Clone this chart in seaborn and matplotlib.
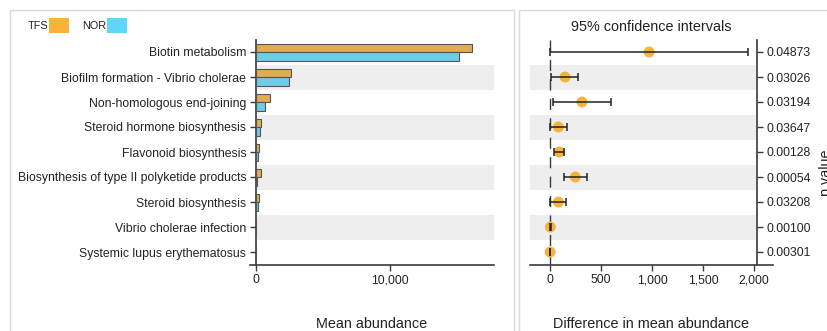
import numpy as np
import pandas as pd
import matplotlib
matplotlib.use("Agg")
import matplotlib.pyplot as plt
from matplotlib.patches import Rectangle
import seaborn as sns

# ---- data -------------------------------------------------------------
pathways = [
    "Biotin metabolism",
    "Biofilm formation - Vibrio cholerae",
    "Non-homologous end-joining",
    "Steroid hormone biosynthesis",
    "Flavonoid biosynthesis",
    "Biosynthesis of type II polyketide products",
    "Steroid biosynthesis",
    "Vibrio cholerae infection",
    "Systemic lupus erythematosus",
]
tfs_mean = [16140, 2590, 1020, 370, 260, 350, 240, 10, 5]
nor_mean = [15170, 2440, 700, 285, 170, 100, 160, 5, 3]
diff_mean = [970, 147, 313, 82, 91, 248, 82, 3, 1]
ci_low = [2, 10, 26, 3, 42, 134, 3, 1, 0]
ci_high = [1938, 277, 600, 163, 140, 362, 160, 6, 3]
p_values = ["0.04873", "0.03026", "0.03194", "0.03647", "0.00128",
            "0.00054", "0.03208", "0.00100", "0.00301"]
groups = ["TFS", "NOR"]
colors = {"TFS": "#F9B23A", "NOR": "#5DD6F7"}

# ---- style ------------------------------------------------------------
sns.set_theme(style="white")
plt.rcParams["font.family"] = ["Liberation Sans", "DejaVu Sans"]
TEXT = "#222222"
SPINE = "#3a3a3a"
BAND = "#eeeeee"
TICK_FS = 8.8
LABEL_FS = 10.4

W, H = 828, 331
fig = plt.figure(figsize=(W / 100, H / 100), dpi=100)


def box(x0, y0, x1, y1):
    """pixel box (top-left origin) -> figure fraction rect"""
    return [x0 / W, 1 - y1 / H, (x1 - x0) / W, (y1 - y0) / H]


# card frames behind the two panels
for x0, y0, x1, y1 in [(10, 10, 514, 340), (519, 10, 840, 340)]:
    fig.patches.append(Rectangle((x0 / W, 1 - y1 / H), (x1 - x0) / W, (y1 - y0) / H,
                                 transform=fig.transFigure, facecolor="white",
                                 edgecolor="#dadada", linewidth=1.0, zorder=-10))

n = len(pathways)
rows = np.arange(n)

# ---- left panel: mean abundance bars ----------------------------------
ax1 = fig.add_axes(box(250, 39.5, 494, 264.5))
ax1.patch.set_alpha(0)
long_df = pd.DataFrame({
    "pathway": pathways * 2,
    "abundance": tfs_mean + nor_mean,
    "group": ["TFS"] * n + ["NOR"] * n,
})
sns.barplot(data=long_df, y="pathway", x="abundance", hue="group",
            hue_order=groups, order=pathways, palette=colors, orient="h",
            width=0.68, edgecolor="#555555", linewidth=0.8, legend=False,
            ax=ax1, zorder=3)
xl1 = (-448, 17760)
ax1.set_xlim(*xl1)
ax1.set_ylim(n - 0.5, -0.5)
for i in rows[1::2]:
    ax1.axhspan(i - 0.5, i + 0.5, xmin=(257 - 250) / 244, xmax=1,
                color=BAND, lw=0, zorder=0)
ax1.set_xticks([0, 10000])
ax1.set_xticklabels(["0", "10,000"])
ax1.set_xlabel("Mean abundance", fontsize=LABEL_FS, color=TEXT, labelpad=22)
ax1.set_ylabel("")
for s in ["top", "right"]:
    ax1.spines[s].set_visible(False)
ax1.spines["left"].set_position(("data", 0))
for s in ["left", "bottom"]:
    ax1.spines[s].set_color(SPINE)
    ax1.spines[s].set_linewidth(1.2)
ax1.tick_params(axis="both", length=4, width=1, color=SPINE,
                labelsize=TICK_FS, labelcolor=TEXT, pad=3, bottom=True, left=True)

# ---- right panel: difference with 95% CI -------------------------------
ax2 = fig.add_axes(box(530, 39.5, 773, 264.5))
ax2.patch.set_alpha(0)
xl2 = (-196, 2183)
ax2.set_xlim(*xl2)
ax2.set_ylim(n - 0.5, -0.5)
for i in rows[1::2]:
    ax2.axhspan(i - 0.5, i + 0.5, xmin=0, xmax=(757 - 530) / 243,
                color=BAND, lw=0, zorder=0)
ax2.axvline(0, color=SPINE, lw=1, dashes=(8, 6), zorder=1)
diff_df = pd.DataFrame({"row": rows, "diff": diff_mean,
                        "lo": ci_low, "hi": ci_high})
sns.scatterplot(data=diff_df, x="diff", y="row", color=colors["TFS"], s=62,
                edgecolor="none", linewidth=0, ax=ax2, zorder=3, legend=False)
ax2.errorbar(diff_df["diff"], diff_df["row"],
             xerr=[diff_df["diff"] - diff_df["lo"], diff_df["hi"] - diff_df["diff"]],
             fmt="none", ecolor="#222222", elinewidth=1.1, capsize=2.8,
             capthick=1.1, zorder=4)
ax2.set_xlim(*xl2)
ax2.set_ylim(n - 0.5, -0.5)
ax2.set_xticks([0, 500, 1000, 1500, 2000])
ax2.set_xticklabels(["0", "500", "1,000", "1,500", "2,000"])
ax2.set_xlabel("Difference in mean abundance", fontsize=LABEL_FS, color=TEXT,
               labelpad=22)
ax2.set_ylabel("")
ax2.yaxis.tick_right()
ax2.set_yticks(rows)
ax2.set_yticklabels(p_values)
for s in ["top", "left"]:
    ax2.spines[s].set_visible(False)
ax2.spines["right"].set_position(("data", 2026))
for s in ["right", "bottom"]:
    ax2.spines[s].set_color(SPINE)
    ax2.spines[s].set_linewidth(1.2)
ax2.tick_params(axis="both", length=4, width=1, color=SPINE,
                labelsize=TICK_FS, labelcolor=TEXT, pad=3, bottom=True, right=True,
                left=False)
ax2.set_title("95% confidence intervals", fontsize=LABEL_FS, color=TEXT, pad=6)
fig.text(819 / W, 1 - 173 / H, "p value", rotation=90, ha="left", va="center",
         fontsize=LABEL_FS, color=TEXT)

# ---- legend -----------------------------------------------------------
legend_items = [("TFS", 28, 49), ("NOR", 82, 107)]
for name, tx, sx in legend_items:
    fig.text(tx / W, 1 - 26 / H, name, fontsize=7.8, color=TEXT,
             ha="left", va="center")
    fig.patches.append(Rectangle((sx / W, 1 - 33 / H), 20 / W, 15 / H,
                                 transform=fig.transFigure,
                                 facecolor=colors[name], edgecolor="none"))

fig.savefig("out.png", dpi=100)
